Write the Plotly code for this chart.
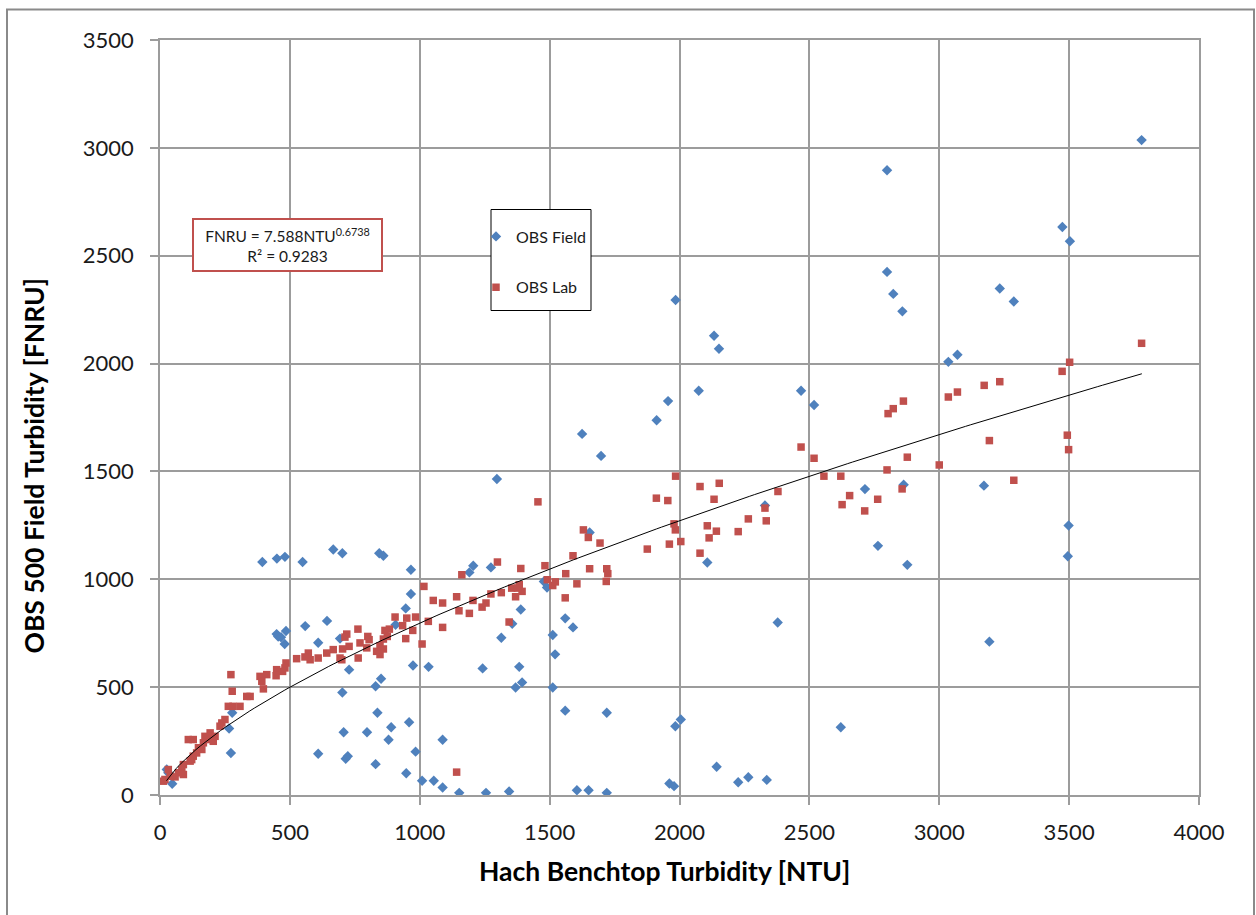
import numpy as np
import plotly.graph_objects as go

# OBS Field readings: Hach benchtop NTU vs field FNRU
field_ntu = [394, 450, 481, 549, 667, 702, 844, 860, 966, 966,
             946, 907, 643, 559, 449, 455, 466, 485, 480, 609,
             693, 728, 974, 1034, 851, 830, 702, 837, 959, 890,
             880, 707, 797, 1088, 984, 609, 715, 723, 830, 948,
             1009, 1054, 1088, 278, 266, 273, 26, 32, 47,
             1191, 1206, 1274, 1389, 1356, 1314, 1242, 1383, 1394, 1369,
             1478, 1490, 1512, 1521, 1560, 1590, 1512, 1560, 1720, 1654,
             1152, 1255, 1344, 1605, 1650, 1720, 1961, 1979, 1984, 2005,
             2107, 2329, 2378, 2714, 2863, 2764, 2877, 3172, 3193, 2621,
             2143, 2226, 2265, 2336,
             1985, 2133, 2152, 2074, 1956, 1912, 1698, 2468, 2518, 2799,
             2823, 2858, 3035, 3070, 3233, 3287,
             3498, 3495, 3779, 3474, 3503,
             2799, 1625, 1297]
field_fnru = [1080, 1096, 1104, 1080, 1138, 1121, 1121, 1109, 1044, 932,
              865, 789, 807, 783, 746, 735, 731, 760, 700, 706,
              725, 581, 600, 594, 539, 504, 475, 381, 337, 314,
              256, 291, 291, 256, 201, 191, 168, 180, 143, 101,
              66, 66, 35, 381, 308, 195, 118, 103, 52,
              1032, 1063, 1055, 860, 794, 729, 587, 594, 522, 498,
              990, 962, 742, 652, 819, 777, 498, 391, 381, 1217,
              10, 10, 16, 22, 22, 10, 53, 41, 319, 350,
              1078, 1342, 800, 1418, 1438, 1155, 1067, 1434, 711, 314,
              131, 59, 82, 70,
              2295, 2129, 2069, 1874, 1826, 1737, 1572, 1874, 1808, 2425,
              2323, 2242, 2008, 2041, 2348, 2288,
              1249, 1107, 3036, 2633, 2567,
              2896, 1674, 1465]

# OBS Lab readings
lab_ntu = [1016, 1052, 1088, 1088, 1009, 1033, 905, 950, 984, 934,
           973, 946, 866, 883, 875, 860, 847, 860, 834, 847,
           800, 805, 770, 796, 763, 762, 719, 712, 728, 703,
           693, 700, 667, 642, 609, 571, 578, 558, 526, 485,
           481, 449, 447, 472, 411, 385, 392, 398, 273, 278,
           347, 334, 263, 281, 308, 250, 238, 231, 193, 173,
           212, 186, 205, 109, 128, 167, 148, 161, 141, 128,
           122, 116, 90, 84, 71, 90, 58, 39, 32, 19, 13,
           1630, 1649, 1694, 1876, 1961, 1984, 1979, 2005, 2079, 1590,
           1654, 1720, 1724, 1718, 1562, 1605, 1560, 1482, 1491, 1512,
           1522, 1389, 1299, 1162, 1142, 1205, 1151, 1191, 1240, 1255,
           1274, 1314, 1354, 1369, 1383, 1394, 1376, 1344, 1142,
           2153, 2079, 2133, 2379, 2329, 2334, 2265, 2226, 2107, 2142,
           2114, 2655, 2626, 2763, 2713, 2857,
           1985, 1911, 1955, 2468, 2518, 2556, 2621, 2799, 2803, 2823,
           2862, 2877, 3000, 3035, 3070, 3173, 3233, 3193, 3287,
           3779, 3502, 3473, 3493, 3498,
           1455]
lab_fnru = [967, 902, 890, 777, 700, 805, 825, 820, 825, 785,
            763, 725, 763, 769, 735, 723, 692, 677, 666, 651,
            735, 720, 705, 682, 635, 769, 746, 732, 689, 677,
            635, 627, 674, 658, 635, 658, 627, 640, 632, 612,
            589, 581, 553, 573, 558, 550, 527, 492, 558, 481,
            457, 457, 411, 411, 411, 350, 334, 319, 288, 272,
            272, 257, 249, 257, 257, 242, 219, 211, 195, 180,
            164, 157, 141, 118, 103, 95, 84, 87, 118, 72, 64,
            1229, 1194, 1168, 1140, 1163, 1229, 1257, 1175, 1121, 1109,
            1049, 1049, 1026, 990, 1026, 979, 914, 1063, 998, 971,
            988, 1050, 1080, 1021, 919, 902, 854, 842, 871, 890,
            932, 938, 959, 919, 975, 944, 959, 802, 106,
            1445, 1430, 1371, 1407, 1330, 1271, 1280, 1221, 1248, 1223,
            1192, 1388, 1346, 1371, 1317, 1419,
            1478, 1376, 1365, 1613, 1561, 1478, 1478, 1507, 1768, 1791,
            1826, 1566, 1530, 1845, 1868, 1899, 1916, 1643, 1459,
            2094, 2006, 1964, 1668, 1601,
            1359]

assert len(field_ntu) == len(field_fnru)
assert len(lab_ntu) == len(lab_fnru)

# Power-law fit of the lab data: FNRU = a * NTU^b
fit_a, fit_b, fit_r2 = 7.588, 0.6738, 0.9283
fit_x = np.linspace(25, 3780, 200)
fit_y = fit_a * fit_x ** fit_b

x_ticks = [0, 500, 1000, 1500, 2000, 2500, 3000, 3500, 4000]
y_ticks = [0, 500, 1000, 1500, 2000, 2500, 3000, 3500]

FONT = "Lato"
GRID = "#9c9c9c"

# plot-area geometry in page pixels, used to place paper-referenced items
PL, PW, PB, PH = 160, 1039, 795.5, 755


def px(x):
    return (x - PL) / PW


def py(y):
    return (PB - y) / PH


fig = go.Figure()
fig.add_trace(go.Scatter(
    x=field_ntu, y=field_fnru, mode="markers", name="OBS Field",
    legendgroup="field",
    marker=dict(symbol="diamond", size=8, color="#4f81bd"),
))
fig.add_trace(go.Scatter(
    x=lab_ntu, y=lab_fnru, mode="markers", name="OBS Lab",
    legendgroup="lab",
    marker=dict(symbol="square", size=7.5, color="#c0504d"),
))
fig.add_trace(go.Scatter(
    x=fit_x, y=fit_y, mode="lines", showlegend=False,
    line=dict(color="black", width=1), hoverinfo="skip",
))

axis_common = dict(
    showgrid=True, gridcolor=GRID, gridwidth=1.5,
    showline=True, linecolor=GRID, linewidth=1.5, mirror=True,
    ticks="outside", ticklen=8, tickcolor=GRID, tickwidth=1.5,
    tickfont=dict(family=FONT, size=22, color="#1a1a1a"),
    zeroline=False,
)

fig.update_layout(
    width=1256, height=915,
    margin=dict(l=160, r=57, t=40, b=120),
    paper_bgcolor="white", plot_bgcolor="white",
    xaxis=dict(range=[0, 4000], tickvals=x_ticks, ticklabelstandoff=9,
               **axis_common),
    yaxis=dict(range=[0, 3500], tickvals=y_ticks, ticklabelstandoff=12,
               **axis_common),
    legend=dict(
        x=px(476), y=py(220), xanchor="left", yanchor="top",
        bgcolor="rgba(0,0,0,0)", borderwidth=0,
        font=dict(family=FONT, size=16, color="#1a1a1a"),
        tracegroupgap=27, traceorder="grouped",
    ),
    showlegend=True,
)

# chart frame and legend box
fig.add_shape(type="rect", xref="paper", yref="paper",
              x0=px(7), x1=px(1254), y0=py(935), y1=py(10),
              line=dict(color="#8a8a8a", width=2), fillcolor="rgba(0,0,0,0)",
              layer="below")
fig.add_shape(type="rect", xref="paper", yref="paper",
              x0=px(491), x1=px(591), y0=py(311), y1=py(210),
              line=dict(color="black", width=1), fillcolor="white",
              layer="above")

# fit equation box
fig.add_annotation(
    xref="paper", yref="paper", x=px(287.5), y=py(246),
    xanchor="center", yanchor="middle",
    text=f"FNRU = {fit_a}NTU<sup>{fit_b}</sup><br>R² = {fit_r2}",
    showarrow=False, align="center",
    font=dict(family=FONT, size=15.5, color="#1a1a1a"),
    bgcolor="white", bordercolor="#c0504d", borderwidth=2, borderpad=4,
    width=179, height=42,
)

# axis titles
fig.add_annotation(
    xref="paper", yref="paper", x=px(664), y=py(871),
    xanchor="center", yanchor="middle",
    text="<b>Hach Benchtop Turbidity [NTU]</b>", showarrow=False,
    font=dict(family=FONT, size=26.5, color="black"),
)
fig.add_annotation(
    xref="paper", yref="paper", x=px(33), y=py(466),
    xanchor="center", yanchor="middle",
    text="<b>OBS 500 Field Turbidity [FNRU]</b>", showarrow=False, textangle=-90,
    font=dict(family=FONT, size=26.5, color="black"),
)

fig.write_html("out.html")
